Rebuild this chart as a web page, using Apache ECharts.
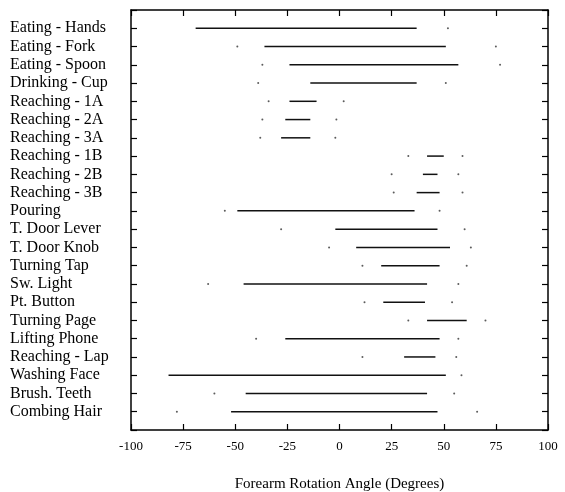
<!DOCTYPE html>
<html>
<head>
<meta charset="utf-8">
<script src="https://cdn.jsdelivr.net/npm/echarts@6/dist/echarts.min.js"></script>
<style>
  html, body { margin: 0; padding: 0; background: #fff; }
  #chart { width: 565px; height: 492px; }
</style>
</head>
<body>
<div id="chart"></div>
<script>
// activities, top to bottom
var activities = [
  "Eating - Hands", "Eating - Fork", "Eating - Spoon", "Drinking - Cup",
  "Reaching - 1A", "Reaching - 2A", "Reaching - 3A",
  "Reaching - 1B", "Reaching - 2B", "Reaching - 3B",
  "Pouring", "T. Door Lever", "T. Door Knob", "Turning Tap", "Sw. Light",
  "Pt. Button", "Turning Page", "Lifting Phone", "Reaching - Lap",
  "Washing Face", "Brush. Teeth", "Combing Hair"
];
// range of each activity (degrees)
var rangeLow  = [-69, -36, -24, -14, -24, -26, -28, 42, 40, 37, -49, -2, 8, 20, -46, 21, 42, -26, 31, -82, -45, -52];
var rangeHigh = [37, 51, 57, 37, -11, -14, -14, 50, 47, 48, 36, 47, 53, 48, 42, 41, 61, 48, 46, 51, 42, 47];
// small dots either side of the range
var dotLow  = [null, -49, -37, -39, -34, -37, -38, 33, 25, 26, -55, -28, -5, 11, -63, 12, 33, -40, 11, null, -60, -78];
var dotHigh = [52, 75, 77, 51, 2, -1.5, -2, 59, 57, 59, 48, 60, 63, 61, 57, 54, 70, 57, 56, 58.5, 55, 66];
var xTicks = [-100, -75, -50, -25, 0, 25, 50, 75, 100];

var cats = [""].concat(activities).concat([""]);

var rangeData = [];
var dotData = [];
for (var i = 0; i < activities.length; i++) {
  rangeData.push([rangeLow[i], rangeHigh[i], i + 1]);
  if (dotLow[i] !== null) dotData.push([dotLow[i], i + 1]);
  if (dotHigh[i] !== null) dotData.push([dotHigh[i], i + 1]);
}

var serif = "Liberation Serif";

function frameLine() {
  return { show: true, onZero: false, lineStyle: { color: "#000", width: 1.5 } };
}
function tick() {
  return { show: true, inside: true, length: 6, interval: 0, lineStyle: { color: "#000", width: 1.2 } };
}

var chart = echarts.init(document.getElementById("chart"));
chart.setOption({
  animation: false,
  grid: { left: 131, right: 17, top: 10, bottom: 62, containLabel: false, outerBoundsMode: "none" },
  xAxis: [
    {
      type: "value", position: "bottom",
      min: xTicks[0], max: xTicks[xTicks.length - 1], interval: 25,
      splitLine: { show: false },
      axisLine: frameLine(),
      axisTick: tick(),
      axisLabel: { color: "#000", fontFamily: serif, fontSize: 13, margin: 10 },
      name: "Forearm Rotation Angle (Degrees)",
      nameLocation: "middle", nameGap: 47,
      nameTextStyle: { color: "#000", fontFamily: serif, fontSize: 15 }
    },
    {
      type: "value", position: "top",
      min: xTicks[0], max: xTicks[xTicks.length - 1], interval: 25,
      splitLine: { show: false },
      axisLine: frameLine(),
      axisTick: tick(),
      axisLabel: { show: false }
    }
  ],
  yAxis: [
    {
      type: "category", data: cats, inverse: true, boundaryGap: false, position: "left",
      axisLine: frameLine(),
      axisTick: tick(),
      axisLabel: { interval: 0, align: "left", margin: 121, color: "#000", fontFamily: serif, fontSize: 16 },
      splitLine: { show: false }
    },
    {
      type: "category", data: cats, inverse: true, boundaryGap: false, position: "right",
      axisLine: frameLine(),
      axisTick: tick(),
      axisLabel: { show: false },
      splitLine: { show: false }
    }
  ],
  series: [
    {
      type: "custom",
      encode: { x: [0, 1], y: 2 },
      data: rangeData,
      renderItem: function (params, api) {
        var a = api.coord([api.value(0), api.value(2)]);
        var b = api.coord([api.value(1), api.value(2)]);
        return {
          type: "line",
          shape: { x1: a[0], y1: a[1], x2: b[0], y2: b[1] },
          style: { stroke: "#111", lineWidth: 1.5 }
        };
      }
    },
    {
      type: "scatter",
      data: dotData,
      symbol: "circle",
      symbolSize: 2,
      itemStyle: { color: "#333" }
    }
  ]
});
</script>
</body>
</html>
